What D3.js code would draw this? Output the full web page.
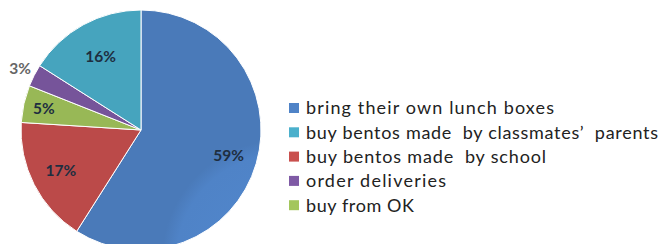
<!DOCTYPE html>
<html>
<head>
<meta charset="utf-8">
<script src="https://cdn.jsdelivr.net/npm/d3@7"></script>
<style>
  body { margin: 0; background: #fff; }
  svg { display: block; }
</style>
</head>
<body>
<div id="chart"></div>
<script>
'use strict';

var categories = ['bring their own lunch boxes', 'buy bentos made  by classmates\u2019  parents',
      'buy bentos made  by school', 'order deliveries', 'buy from OK'],
    values = [59, 16, 17, 3, 5],
    // drawing order around the pie, clockwise from 12 o'clock
    sliceOrder = [0, 2, 4, 3, 1],
    colors = ['#4f83c7', '#4bb0cc', '#c9504e', '#7f5aa5', '#a3c65c'];

var width = 665,
    height = 244,
    cx = 141,
    cy = 130,
    radius = 120,
    legendTextWidths = [248, 352, 240, 140, 108];

var svg = d3.select('#chart').append('svg').attr('width', width).attr('height', height);

var defs = svg.append('defs');
colors.forEach(function (c, i) {
  var g = defs.append('radialGradient').attr('id', 'grad' + i)
    .attr('gradientUnits', 'userSpaceOnUse')
    .attr('cx', cx).attr('cy', cy).attr('r', radius);
  g.append('stop').attr('offset', '0%').attr('stop-color', d3.color(c).brighter(0.1));
  g.append('stop').attr('offset', '88%').attr('stop-color', c);
  g.append('stop').attr('offset', '100%').attr('stop-color', d3.color(c).darker(0.2));
});

var pieData = sliceOrder.map(function (i) { return { idx: i, value: values[i] }; });

var pie = d3.pie().value(function (d) { return d.value; }).sort(null),
    arc = d3.arc().innerRadius(0).outerRadius(radius);

var arcs = pie(pieData);

var g = svg.append('g').attr('transform', 'translate(' + cx + ',' + cy + ')');

g.selectAll('path').data(arcs).enter().append('path')
  .attr('d', arc)
  .attr('fill', function (d) { return 'url(#grad' + d.data.idx + ')'; })
  .attr('stroke', '#fff')
  .attr('stroke-width', 1);

// label positions as fraction of radius
var labelRadius = { 0: 0.76, 1: 0.7, 2: 0.75, 3: 1.13, 4: 0.83 };

g.selectAll('text').data(arcs).enter().append('text')
  .attr('transform', function (d) {
    var a = (d.startAngle + d.endAngle) / 2,
        r = radius * labelRadius[d.data.idx];
    return 'translate(' + (Math.sin(a) * r) + ',' + (-Math.cos(a) * r) + ')';
  })
  .attr('text-anchor', 'middle')
  .attr('dy', '0.35em')
  .style('font-family', 'Lato, "Open Sans", sans-serif')
  .style('font-weight', 'bold')
  .style('font-size', '15.5px')
  .attr('fill', function (d) { return d.data.idx === 3 ? '#666' : '#1e2e40'; })
  .text(function (d) { return d.data.value + '%'; });

var legend = svg.append('g').attr('transform', 'translate(289,108)');

var rows = legend.selectAll('g').data(categories).enter().append('g')
  .attr('transform', function (d, i) { return 'translate(0,' + (i * 24.3) + ')'; });

rows.append('rect')
  .attr('x', 0).attr('y', -5).attr('width', 10).attr('height', 10)
  .attr('fill', function (d, i) { return colors[i]; });

rows.append('text')
  .attr('x', 17).attr('dy', '0.35em')
  .attr('textLength', function (d, i) { return legendTextWidths[i]; })
  .attr('lengthAdjust', 'spacing')
  .style('font-family', 'Lato, "Open Sans", sans-serif')
  .style('font-size', '18px')
  .style('white-space', 'pre')
  .attr('fill', '#222')
  .text(function (d) { return d; });
</script>
</body>
</html>
